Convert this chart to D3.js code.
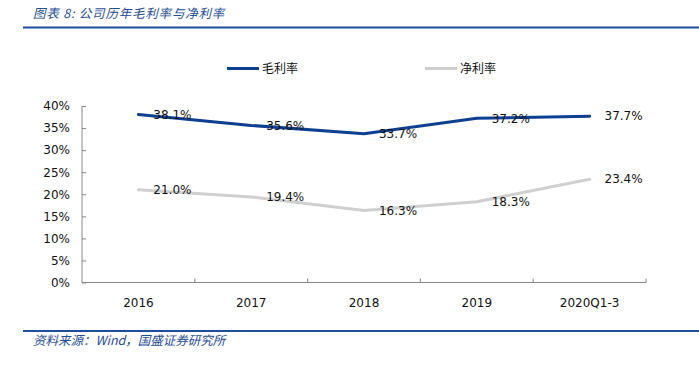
<!DOCTYPE html>
<html>
<head>
<meta charset="utf-8">
<script src="https://cdn.jsdelivr.net/npm/d3@7"></script>
<style>
  body { margin: 0; background: #fff; }
  svg { display: block; }
</style>
</head>
<body>
<div id="chart"></div>
<script>
// data
var years = ["2016", "2017", "2018", "2019", "2020Q1-3"];
var grossMargin = [38.1, 35.6, 33.7, 37.2, 37.7];
var netMargin = [21.0, 19.4, 16.3, 18.3, 23.4];
var yTicks = [0, 5, 10, 15, 20, 25, 30, 35, 40];
var seriesNames = ["毛利率", "净利率"];

var width = 699, height = 367;
// plot box (note: "top" is reserved on window, so use plot* names)
var plotLeft = 82, plotRight = 646, plotTop = 106, plotBottom = 282.5;

var svg = d3.select("#chart").append("svg")
  .attr("width", width)
  .attr("height", height);

var x = d3.scaleBand().domain(years).range([plotLeft, plotRight]);
var y = d3.scaleLinear().domain([0, 40]).range([plotBottom, plotTop]);

// header / footer
svg.append("text")
  .attr("x", 33).attr("y", 18)
  .attr("font-family", "Noto Sans CJK SC")
  .attr("font-style", "italic")
  .attr("font-size", 12.5)
  .attr("letter-spacing", 0.8)
  .attr("fill", "#1f4d95")
  .text("图表 8:  公司历年毛利率与净利率");
svg.append("line")
  .attr("x1", 23).attr("x2", 699).attr("y1", 27.5).attr("y2", 27.5)
  .attr("stroke", "#1f4e9b").attr("stroke-width", 2);
svg.append("line")
  .attr("x1", 23).attr("x2", 699).attr("y1", 331).attr("y2", 331)
  .attr("stroke", "#1f4e9b").attr("stroke-width", 2);
svg.append("text")
  .attr("x", 33).attr("y", 345)
  .attr("font-family", "Noto Sans CJK SC")
  .attr("font-style", "italic")
  .attr("font-size", 12.5)
  .attr("fill", "#1f4d95")
  .text("资料来源：Wind，国盛证券研究所");

// axes
var yAxis = d3.axisLeft(y)
  .tickValues(yTicks)
  .tickSize(-4)
  .tickPadding(12)
  .tickFormat(function(d) { return d + "%"; });
var gy = svg.append("g")
  .attr("transform", "translate(" + plotLeft + ",0)")
  .call(yAxis);

var xAxis = d3.axisBottom(x)
  .tickSize(0)
  .tickPadding(16);
var gx = svg.append("g")
  .attr("transform", "translate(0," + plotBottom + ")")
  .call(xAxis);

// x ticks sit on the band edges, pointing up
svg.selectAll(".xtick")
  .data(years)
  .enter().append("line")
  .attr("x1", function(d) { return x(d) + x.bandwidth(); })
  .attr("x2", function(d) { return x(d) + x.bandwidth(); })
  .attr("y1", plotBottom).attr("y2", plotBottom - 4)
  .attr("stroke", "#888");

[gx, gy].forEach(function(g) {
  g.select(".domain").attr("stroke", "#888");
  g.selectAll(".tick line").attr("stroke", "#888");
  g.selectAll("text")
    .attr("font-family", "DejaVu Sans")
    .attr("font-size", 12)
    .attr("fill", "#111");
});
gy.select(".domain").attr("d", "M0," + plotTop + "V" + plotBottom);
gx.select(".domain").attr("d", "M" + plotLeft + ",0H" + plotRight);

// lines
var line = d3.line()
  .x(function(d, i) { return x(years[i]) + x.bandwidth() / 2; })
  .y(function(d) { return y(d); });

var series = [
  { name: seriesNames[0], values: grossMargin, color: "#0d3f92" },
  { name: seriesNames[1], values: netMargin, color: "#cfcfcf" }
];

series.forEach(function(s) {
  svg.append("path")
    .datum(s.values)
    .attr("d", line)
    .attr("fill", "none")
    .attr("stroke", s.color)
    .attr("stroke-width", 3)
    .attr("stroke-linecap", "round");
});

// value labels, drawn on top of both lines
series.forEach(function(s) {
  svg.selectAll(null)
    .data(s.values)
    .enter().append("text")
    .attr("x", function(d, i) { return x(years[i]) + x.bandwidth() / 2 + 34; })
    .attr("y", function(d) { return y(d); })
    .attr("dy", "0.35em")
    .attr("text-anchor", "middle")
    .attr("font-family", "DejaVu Sans")
    .attr("font-size", 12)
    .attr("fill", "#111")
    .text(function(d) { return d.toFixed(1) + "%"; });
});

// legend
var legendX = [227, 425];
series.forEach(function(s, i) {
  svg.append("line")
    .attr("x1", legendX[i]).attr("x2", legendX[i] + 32)
    .attr("y1", 68.5).attr("y2", 68.5)
    .attr("stroke", s.color).attr("stroke-width", 3);
  svg.append("text")
    .attr("x", legendX[i] + 35).attr("y", 68.5)
    .attr("dy", "0.35em")
    .attr("font-family", "Noto Sans CJK SC")
    .attr("font-size", 12)
    .attr("fill", "#111")
    .text(s.name);
});
</script>
</body>
</html>
